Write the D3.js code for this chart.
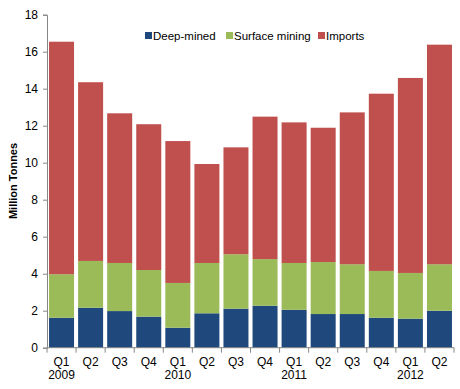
<!DOCTYPE html>
<html><head><meta charset="utf-8">
<script src="https://cdn.jsdelivr.net/npm/d3@7"></script>
<style>body{margin:0;background:#fff}text{font-family:"Liberation Sans",Arial,sans-serif}</style>
</head><body><svg id="c" width="460" height="389"></svg>
<script>
const quarters = ["Q1","Q2","Q3","Q4","Q1","Q2","Q3","Q4","Q1","Q2","Q3","Q4","Q1","Q2"];
const years = ["2009","","","","2010","","","","2011","","","","2012",""];
const deepMined = [1.62,2.16,1.98,1.68,1.08,1.86,2.11,2.27,2.05,1.82,1.82,1.62,1.57,2.00];
const surfaceMining = [2.35,2.53,2.60,2.52,2.42,2.72,2.94,2.52,2.53,2.81,2.69,2.53,2.47,2.51];
const imports = [12.57,9.66,8.09,7.88,7.67,5.35,5.78,7.70,7.60,7.26,8.21,9.58,10.54,11.87];
const seriesNames = ["Deep-mined","Surface mining","Imports"];
const colors = ["#1F497D","#9BBB59","#C0504D"];
const yTicks = [0,2,4,6,8,10,12,14,16,18];

const svg = d3.select("#c");
const m = {l:47, r:6, t:15, b:42};
const W = 460, H = 389;
const x = d3.scaleBand().domain(d3.range(quarters.length)).range([m.l, W - m.r]).paddingInner(0.14).paddingOuter(0.07);
const y = d3.scaleLinear().domain([0,18]).range([347.7, 14.7]);

const rows = quarters.map((q,i)=>({i, "Deep-mined":deepMined[i], "Surface mining":surfaceMining[i], "Imports":imports[i]}));
const stack = d3.stack().keys(seriesNames)(rows);

svg.append("g").selectAll("g").data(stack).join("g")
  .attr("fill",(d,k)=>colors[k])
  .selectAll("rect").data(d=>d).join("rect")
  .attr("x",d=>x(d.data.i)).attr("width",x.bandwidth())
  .attr("y",d=>y(d[1])).attr("height",d=>y(d[0])-y(d[1]));

// y axis
const ya = svg.append("g").attr("transform",`translate(${m.l},0)`)
  .call(d3.axisLeft(y).tickValues(yTicks).tickSize(4).tickPadding(5));
ya.select(".domain").attr("stroke","#868686");
ya.selectAll(".tick line").attr("stroke","#868686");
ya.selectAll("text").attr("font-size",12).attr("fill","#000");

// x axis
const xg = svg.append("g");
xg.append("line").attr("x1",m.l).attr("x2",W-m.r).attr("y1",y(0)).attr("y2",y(0)).attr("stroke","#868686");
d3.range(quarters.length+1).forEach(k=>{
  const xx = m.l + k*(W-m.r-m.l)/quarters.length;
  xg.append("line").attr("x1",xx).attr("x2",xx).attr("y1",y(0)).attr("y2",y(0)+5).attr("stroke","#868686");
});
quarters.forEach((q,i)=>{
  const cx = x(i)+x.bandwidth()/2;
  xg.append("text").attr("x",cx).attr("y",366).attr("text-anchor","middle").attr("font-size",12).text(q);
  if(years[i]) xg.append("text").attr("x",cx).attr("y",379).attr("text-anchor","middle").attr("font-size",12).text(years[i]);
});

// y label
svg.append("text").attr("transform","translate(17,181) rotate(-90)").attr("text-anchor","middle")
  .attr("font-size",11).attr("font-weight","bold").text("Million Tonnes");

// legend
const lg = [{x:145,n:0},{x:226,n:1},{x:318,n:2}];
lg.forEach(o=>{
  svg.append("rect").attr("x",o.x).attr("y",32).attr("width",7).attr("height",7).attr("fill",colors[o.n]);
  svg.append("text").attr("x",o.x+8).attr("y",40).attr("font-size",11.5).text(seriesNames[o.n]);
});
</script></body></html>
